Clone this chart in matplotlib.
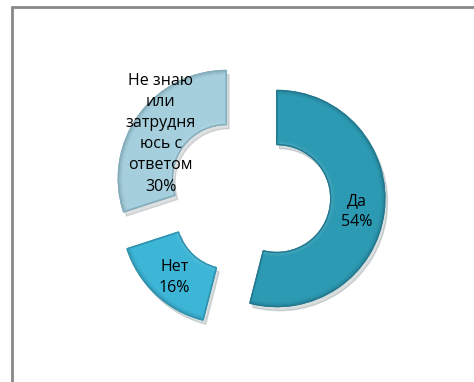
import matplotlib.pyplot as plt
import numpy as np
from matplotlib.patches import Rectangle, Wedge
from matplotlib.colors import to_rgb

categories = ["Да", "Нет", "Не знаю или затрудняюсь с ответом"]
labels = ["Да", "Нет", "Не знаю\nили\nзатрудня\nюсь с\nответом"]
shares = [54, 16, 30]
colors = ["#2d9ab4", "#3db5d6", "#a5cfdd"]
edges = ["#23798f", "#2f93ae", "#84adbc"]

W, H = 474, 382
fig = plt.figure(figsize=(W / 100, H / 100), dpi=100)
ax = fig.add_axes([0, 0, 1, 1])

# chart area frame
ax.add_patch(Rectangle((12.5, -10), W + 10, H - 7 + 10, fill=False,
                       edgecolor="#888888", linewidth=2))

R = 108
ring = 54
cx, cy = 249, H - 195
wedges, _ = ax.pie(shares, radius=R, center=(cx, cy), startangle=90,
                   counterclock=False, explode=[28] * 3,
                   colors=colors, frame=True,
                   wedgeprops=dict(width=ring, linewidth=1.0),
                   shadow=dict(ox=2, oy=-3, alpha=0.16))
ax.set_xlim(0, W)
ax.set_ylim(0, H)
ax.set_aspect("equal")
ax.axis("off")


def shade(c, f):
    c = np.array(to_rgb(c))
    return tuple(np.clip(c * f if f < 1 else c + (1 - c) * (f - 1), 0, 1))


# soft bevel: light band along the inner rim, darker band along the outer rim
for w, col in zip(wedges, colors):
    t1, t2 = w.theta1, w.theta2
    for k in range(4):
        ax.add_patch(Wedge(w.center, R - k, t1, t2, width=1.2,
                           color=shade(col, 0.86 + 0.035 * k), lw=0))
        ax.add_patch(Wedge(w.center, R - ring + 1 + k, t1, t2, width=1.2,
                           color=shade(col, 1.14 - 0.035 * k), lw=0))

for w, ec, lab, v in zip(wedges, edges, labels, shares):
    w.set_edgecolor(ec)
    ax.add_patch(Wedge(w.center, R, w.theta1, w.theta2, width=ring,
                       fill=False, edgecolor=ec, lw=1.0))
    ang = np.deg2rad((w.theta1 + w.theta2) / 2)
    r = R - ring / 2
    x = w.center[0] + r * np.cos(ang)
    y = w.center[1] + r * np.sin(ang)
    ax.text(x, y - 3, f"{lab}\n{v}%", ha="center", va="center",
            fontsize=11.5, family="Open Sans", color="black",
            linespacing=1.42)

fig.savefig("out.png", dpi=100)
